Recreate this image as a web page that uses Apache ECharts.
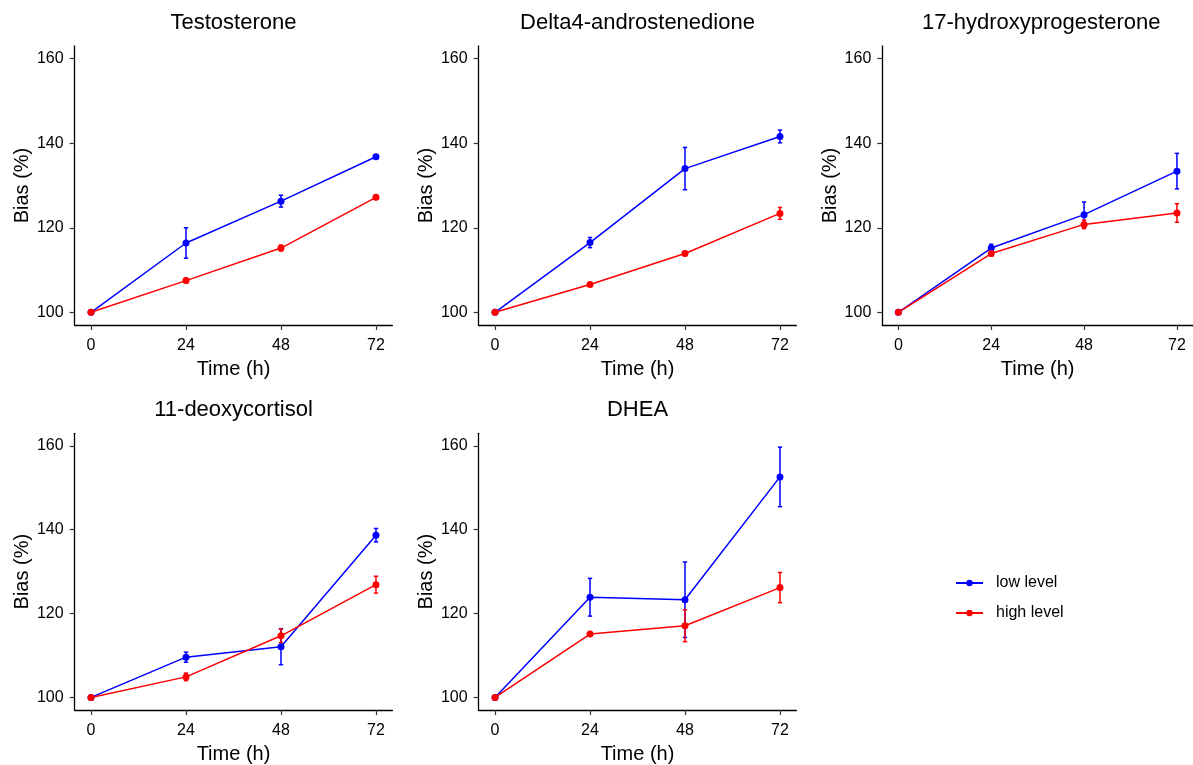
<!DOCTYPE html>
<html>
<head>
<meta charset="utf-8">
<script src="https://cdn.jsdelivr.net/npm/echarts@6/dist/echarts.min.js"></script>
<style>html,body{margin:0;padding:0;background:#fff}#c{width:1193px;height:765px}</style>
</head>
<body>
<div id="c"></div>
<script>
// ---------- data ----------
const times = [0, 24, 48, 72];
const xTicks = [0, 24, 48, 72];
const yTicks = [100, 120, 140, 160];
const panelTitles = ['Testosterone', 'Delta4-androstenedione', '17-hydroxyprogesterone', '11-deoxycortisol', 'DHEA'];
const seriesNames = ['low level', 'high level'];

const testosteroneLow = [100, 116.4, 126.3, 136.8];
const testosteroneLowErr = [0, 3.6, 1.4, 0.4];
const testosteroneHigh = [100, 107.5, 115.2, 127.2];
const testosteroneHighErr = [0, 0.5, 0.7, 0.5];

const delta4Low = [100, 116.5, 134.0, 141.6];
const delta4LowErr = [0, 1.2, 5.0, 1.5];
const delta4High = [100, 106.6, 113.9, 123.4];
const delta4HighErr = [0, 0.4, 0.5, 1.4];

const ohpLow = [100, 115.2, 123.1, 133.4];
const ohpLowErr = [0, 0.9, 3.0, 4.2];
const ohpHigh = [100, 113.9, 120.8, 123.5];
const ohpHighErr = [0, 0.6, 1.0, 2.2];

const deoxyLow = [100, 109.6, 112.1, 138.7];
const deoxyLowErr = [0, 1.2, 4.3, 1.6];
const deoxyHigh = [100, 104.9, 114.7, 126.9];
const deoxyHighErr = [0, 0.9, 1.6, 2.0];

const dheaLow = [100, 123.9, 123.3, 152.6];
const dheaLowErr = [0, 4.5, 9.0, 7.1];
const dheaHigh = [100, 115.1, 117.1, 126.2];
const dheaHighErr = [0, 0.3, 3.8, 3.6];

const panelLow = [testosteroneLow, delta4Low, ohpLow, deoxyLow, dheaLow];
const panelLowErr = [testosteroneLowErr, delta4LowErr, ohpLowErr, deoxyLowErr, dheaLowErr];
const panelHigh = [testosteroneHigh, delta4High, ohpHigh, deoxyHigh, dheaHigh];
const panelHighErr = [testosteroneHighErr, delta4HighErr, ohpHighErr, deoxyHighErr, dheaHighErr];

// ---------- layout ----------
const FONT = 'Liberation Sans, Arial, sans-serif';
const colLeft = [74.6, 478.6, 882.3];
const gridW = 317.8;
const rowTop = [46, 433.3];
const rowH = [279, 278.4];
const titleTop = [12, 398.5];
const colors = ['#0000ff', '#ff0000'];

const chart = echarts.init(document.getElementById('c'), null, {renderer: 'canvas'});

const grids = [], xAxes = [], yAxes = [], titles = [], series = [];

panelTitles.forEach((t, i) => {
  const r = Math.floor(i / 3), c = i % 3;
  grids.push({left: colLeft[c], top: rowTop[r], width: gridW, height: rowH[r], containLabel: false});
  titles.push({
    text: t, left: colLeft[c] + gridW / 2, top: titleTop[r], textAlign: 'center', padding: 0,
    textStyle: {fontFamily: FONT, fontSize: 22, fontWeight: 'normal', color: '#000'}
  });
  const axisLine = {show: true, onZero: false, lineStyle: {color: '#000', width: 1.3}};
  const axisTickBase = {show: true, length: 5, lineStyle: {color: '#333', width: 1.2}};
  xAxes.push({
    gridIndex: i, type: 'value', min: -4.15, max: 76.15,
    axisLine: axisLine,
    axisTick: Object.assign({customValues: xTicks}, axisTickBase),
    axisLabel: {customValues: xTicks, fontFamily: FONT, fontSize: 16, color: '#000', margin: 13},
    splitLine: {show: false},
    name: 'Time (h)', nameLocation: 'middle', nameGap: 34,
    nameTextStyle: {fontFamily: FONT, fontSize: 20, color: '#000'}
  });
  yAxes.push({
    gridIndex: i, type: 'value', min: 97, max: 163,
    axisLine: axisLine,
    axisTick: Object.assign({customValues: yTicks}, axisTickBase),
    axisLabel: {customValues: yTicks, fontFamily: FONT, fontSize: 16, color: '#000', margin: 11},
    splitLine: {show: false},
    name: 'Bias (%)', nameLocation: 'middle', nameGap: 42, nameRotate: 90,
    nameTextStyle: {fontFamily: FONT, fontSize: 20, color: '#000'}
  });

  const groups = [[panelLow[i], panelLowErr[i]], [panelHigh[i], panelHighErr[i]]];
  groups.forEach((g, k) => {
    const vals = g[0], errs = g[1];
    const col = colors[k];
    series.push({
      name: seriesNames[k] + ' error', type: 'custom', xAxisIndex: i, yAxisIndex: i,
      silent: true, z: 2,
      data: times.map((tm, j) => [tm, vals[j] - errs[j], vals[j] + errs[j]]),
      renderItem: function (params, api) {
        const x = api.value(0), lo = api.value(1), hi = api.value(2);
        if (hi - lo <= 0) return null;
        const pLo = api.coord([x, lo]), pHi = api.coord([x, hi]);
        const cl = api.coord([x - 0.55, lo]), cr = api.coord([x + 0.55, lo]);
        const st = {stroke: col, lineWidth: 1.5};
        return {
          type: 'group', children: [
            {type: 'line', shape: {x1: pLo[0], y1: pLo[1], x2: pHi[0], y2: pHi[1]}, style: st},
            {type: 'line', shape: {x1: cl[0], y1: pLo[1], x2: cr[0], y2: pLo[1]}, style: st},
            {type: 'line', shape: {x1: cl[0], y1: pHi[1], x2: cr[0], y2: pHi[1]}, style: st}
          ]
        };
      }
    });
    series.push({
      name: seriesNames[k], type: 'line', xAxisIndex: i, yAxisIndex: i, z: 3,
      data: times.map((tm, j) => [tm, vals[j]]),
      symbol: 'circle', symbolSize: 7, showSymbol: true,
      lineStyle: {color: col, width: 1.5},
      itemStyle: {color: col},
      emphasis: {disabled: true},
      animation: false
    });
  });
});

const legendBase = {
  orient: 'vertical', left: 955, padding: 0, itemWidth: 27, itemHeight: 8, itemGap: 0,
  selectedMode: false,
  textStyle: {fontFamily: FONT, fontSize: 16, color: '#000', lineHeight: 18, padding: [0, 0, 0, 8]}
};

chart.setOption({
  animation: false,
  backgroundColor: '#fff',
  title: titles,
  grid: grids,
  xAxis: xAxes,
  yAxis: yAxes,
  legend: [
    Object.assign({}, legendBase, {top: 574, data: ['low level']}),
    Object.assign({}, legendBase, {top: 604, data: ['high level']})
  ],
  series: series
});
</script>
</body>
</html>
